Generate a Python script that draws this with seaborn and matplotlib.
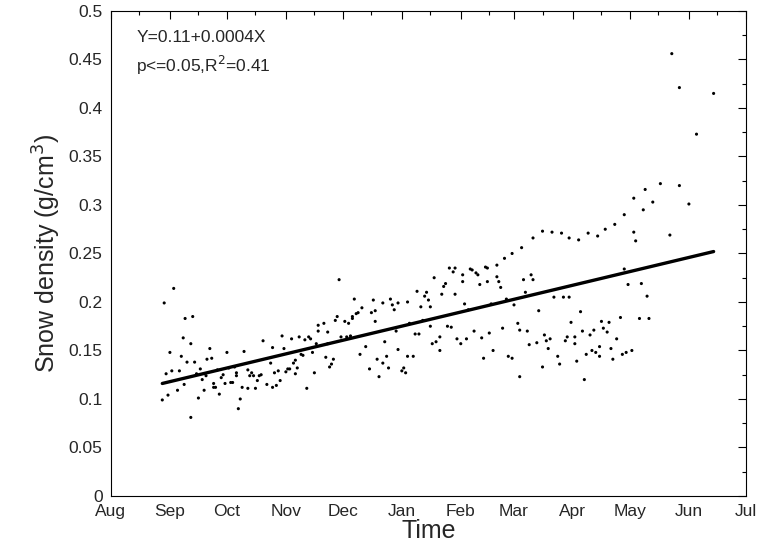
import numpy as np
import pandas as pd
import matplotlib
matplotlib.use('Agg')
import matplotlib.pyplot as plt
import matplotlib.dates as mdates
import seaborn as sns

sns.set_style('white')
plt.rcParams['font.family'] = ['Liberation Sans', 'DejaVu Sans']

# days since 1 Aug, snow density (g/cm3)
early_days = [27, 28, 29, 30, 31, 32, 33, 35, 36, 37, 38, 38.5, 39, 40, 42, 42, 43, 44, 45, 46,
              47, 48, 49, 50, 50.5, 52, 53, 54, 54, 55, 56, 57, 58, 59, 60, 61, 62, 63, 64, 65,
              66, 66, 67, 68, 69, 70, 72, 72, 73, 74, 75, 76, 77, 78, 79, 80, 82, 84, 85, 85,
              86, 87, 88, 89, 90, 91, 92, 93, 94, 95, 96, 97, 97, 98, 99, 100, 101, 102, 103, 104,
              105, 106, 107, 108, 109, 109, 112, 113, 114, 114, 115, 116, 117, 118, 119, 120, 121, 123, 124, 125, 126]
early_dens = [.099, .199, .126, .104, .148, .129, .214, .109, .129, .144, .163, .115, .183, .138, .081, .157, .185, .138, .126, .101,
              .131, .120, .109, .124, .141, .152, .142, .112, .116, .112, .130, .105, .122, .125, .116, .148, .132, .117, .117, .133,
              .124, .127, .090, .100, .112, .149, .130, .111, .124, .127, .124, .111, .119, .124, .125, .160, .115, .137, .112, .153,
              .127, .114, .129, .119, .165, .152, .128, .131, .131, .162, .137, .140, .126, .132, .164, .146, .145, .161, .111, .164,
              .162, .148, .127, .157, .176, .170, .178, .143, .169, .157, .133, .136, .141, .181, .185, .223, .164, .180, .164, .178, .165]

mid_days = [127, 127, 128, 129, 130, 131, 132, 134, 136, 137, 138, 139, 139, 140, 141, 143, 143, 144, 145, 146,
            147, 148, 149, 150, 151, 151, 153, 154, 155, 156, 156, 157, 159, 160, 161, 162, 163, 164, 165, 166,
            167, 168, 168, 169, 170, 171, 173, 173, 174, 175, 176, 177, 178, 179, 180, 181, 181, 182, 184, 185,
            185, 186, 187, 188, 189, 190, 191, 192, 193, 194, 195, 196, 197, 198, 198, 199, 200, 201, 203, 203,
            204, 205, 206, 207, 208, 209, 211, 211, 212, 214, 215, 215, 216, 217, 218, 219, 220, 221, 222, 222, 224, 225]
mid_dens = [.183, .185, .203, .188, .189, .146, .194, .154, .131, .189, .202, .191, .180, .141, .123, .199, .137, .159, .144, .132,
            .203, .197, .192, .170, .151, .199, .129, .132, .127, .144, .200, .178, .144, .167, .211, .167, .195, .181, .206, .210,
            .202, .175, .195, .157, .225, .159, .164, .150, .208, .216, .219, .175, .235, .174, .231, .208, .235, .162, .157, .221,
            .228, .198, .162, .192, .234, .233, .170, .230, .228, .218, .163, .142, .236, .235, .221, .168, .198, .150, .238, .226,
            .221, .215, .173, .245, .203, .144, .142, .250, .197, .178, .171, .123, .256, .223, .210, .170, .156, .228, .266, .223, .158, .191]

late_days = [227, 232, 237, 241, 246, 251, 256, 260, 265, 270, 275, 275, 276, 280, 281, 285, 289, 294, 295, 299,
             299, 304, 308, 317, 270, 272, 279, 282, 278, 283,
             233, 238, 241, 247, 242, 258, 262, 268, 259, 261, 266, 254, 252, 248, 244, 244, 240, 239, 235, 236,
             231, 230, 229, 228, 227, 245, 250, 253, 255, 257, 257, 263, 264, 269, 271, 274, 249]
late_dens = [.273, .272, .271, .266, .264, .271, .268, .275, .280, .290, .307, .272, .263, .295, .316, .303, .322, .269, .456, .320,
             .421, .301, .373, .415, .234, .218, .219, .206, .183, .183,
             .205, .205, .205, .190, .179, .180, .179, .184, .173, .169, .162, .171, .166, .170, .164, .157, .164, .160, .144, .136,
             .162, .152, .160, .166, .133, .139, .146, .150, .148, .154, .144, .152, .141, .146, .148, .150, .120]

line_days = [27, 317]
line_dens = [0.116, 0.252]

start = pd.Timestamp('2018-08-01')
df = pd.DataFrame({'day': early_days + mid_days + late_days,
                   'density': early_dens + mid_dens + late_dens})
df['date'] = start + pd.to_timedelta(df['day'], unit='D')
line = pd.DataFrame({'date': start + pd.to_timedelta(line_days, unit='D'), 'density': line_dens})

fig = plt.figure(figsize=(7.69, 5.54), dpi=100)
ax = fig.add_axes([0.1443, 0.1047, 0.8257, 0.8755])
sns.scatterplot(x='date', y='density', data=df, ax=ax, color='black', s=5, edgecolor='none')
sns.lineplot(x='date', y='density', data=line, ax=ax, color='black', linewidth=2.4)

ax.set_xlim(start, pd.Timestamp('2019-07-01'))
ax.set_ylim(0, 0.5)
ax.xaxis.set_major_locator(mdates.MonthLocator())
ax.xaxis.set_major_formatter(mdates.DateFormatter('%b'))
ax.xaxis.set_minor_locator(mdates.MonthLocator(bymonthday=16))
ax.set_yticks(np.arange(0, 0.501, 0.05))
ax.set_yticklabels(['0', '0.05', '0.1', '0.15', '0.2', '0.25', '0.3', '0.35', '0.4', '0.45', '0.5'])
ax.set_yticks(np.arange(0.025, 0.5, 0.05), minor=True)
ax.tick_params(which='both', direction='in', top=True, right=True, labelsize=12.5, color='black')
ax.tick_params(which='major', length=6, width=0.8, pad=6)
ax.tick_params(which='minor', length=3, width=0.8)
for s in ax.spines.values():
    s.set_color('black')
    s.set_linewidth(0.8)

ax.set_xlabel('Time', fontsize=18, labelpad=0)
ax.set_ylabel('Snow density (g/cm$^3$)', fontsize=18, labelpad=4)
ax.text(0.04, 0.935, 'Y=0.11+0.0004X', transform=ax.transAxes, fontsize=12.5)
ax.text(0.04, 0.875, 'p<=0.05,R$^2$=0.41', transform=ax.transAxes, fontsize=12.5)

fig.savefig('out.png', dpi=100)
